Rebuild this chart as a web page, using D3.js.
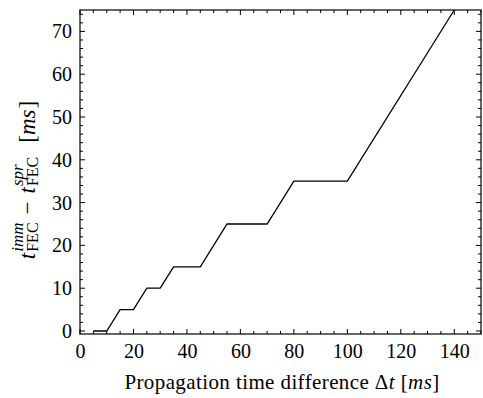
<!DOCTYPE html>
<html>
<head>
<meta charset="utf-8">
<script src="https://cdn.jsdelivr.net/npm/d3@7"></script>
<style>
  body { margin: 0; background: #fff; }
</style>
</head>
<body>
<svg id="chart"></svg>
<script>
// propagation time difference (ms) and FEC time difference (ms)
const delta_t = [5, 10, 15, 20, 25, 30, 35, 45, 55, 70, 80, 100, 140];
const fec_diff = [0, 0, 5, 5, 10, 10, 15, 15, 25, 25, 35, 35, 75];
const x_ticks = [0, 20, 40, 60, 80, 100, 120, 140];
const y_ticks = [0, 10, 20, 30, 40, 50, 60, 70];

const FONT = 'Liberation Serif';
const width = 483, height = 398;
const margin = {top: 10, right: 2, bottom: 64, left: 80};

const svg = d3.select('#chart')
    .attr('width', width)
    .attr('height', height);

const inner_width = width - margin.left - margin.right;
const inner_height = height - margin.top - margin.bottom;

const chart = svg.append('g')
    .attr('transform', `translate(${margin.left}, ${margin.top})`);

const xscale = d3.scaleLinear().domain([0, 150]).range([0, inner_width]);
const yscale = d3.scaleLinear().domain([-0.7, 75]).range([inner_height, 0]);

// minor ticks, inward on all four sides
const x_minor = d3.range(0, 151, 5);
const y_minor = d3.range(0, 76, 2);

function tickLen(isMajor) { return isMajor ? 5 : 3; }

const ticks = chart.append('g').attr('stroke', '#000').attr('stroke-width', 1);
x_minor.forEach(v => {
    const x = xscale(v);
    const l = tickLen(v % 20 === 0);
    ticks.append('line').attr('x1', x).attr('x2', x).attr('y1', inner_height).attr('y2', inner_height - l);
    ticks.append('line').attr('x1', x).attr('x2', x).attr('y1', 0).attr('y2', l);
});
y_minor.forEach(v => {
    const y = yscale(v);
    const l = tickLen(v % 10 === 0);
    ticks.append('line').attr('y1', y).attr('y2', y).attr('x1', 0).attr('x2', l);
    ticks.append('line').attr('y1', y).attr('y2', y).attr('x1', inner_width).attr('x2', inner_width - l);
});

const xaxis = d3.axisBottom(xscale).tickValues(x_ticks).tickSize(0).tickPadding(10);
const yaxis = d3.axisLeft(yscale).tickValues(y_ticks).tickSize(0).tickPadding(8);

chart.append('g')
    .attr('transform', `translate(0, ${inner_height})`)
    .call(xaxis)
    .attr('font-family', FONT)
    .attr('font-size', 20)
    .call(g => g.select('.domain').remove())
    .selectAll('text')
    .attr('font-family', FONT)
    .attr('fill', '#000');

chart.append('g')
    .call(yaxis)
    .attr('font-family', FONT)
    .attr('font-size', 20)
    .call(g => g.select('.domain').remove())
    .selectAll('text')
    .attr('font-family', FONT)
    .attr('fill', '#000');

// frame
chart.append('rect')
    .attr('width', inner_width)
    .attr('height', inner_height)
    .attr('fill', 'none')
    .attr('stroke', '#000')
    .attr('stroke-width', 1.2);

const pts = delta_t.map((d, i) => ({x: d, y: fec_diff[i]}));
const line = d3.line()
    .x(d => xscale(d.x))
    .y(d => yscale(d.y));

chart.append('path')
    .attr('d', line(pts))
    .attr('fill', 'none')
    .attr('stroke', '#000')
    .attr('stroke-width', 1.3);

// x label
const xl = svg.append('text')
    .attr('x', 282)
    .attr('y', 389)
    .attr('text-anchor', 'middle')
    .attr('font-family', FONT)
    .attr('font-size', 21)
    .attr('letter-spacing', 0.4);
xl.append('tspan').text('Propagation time difference Δ');
xl.append('tspan').attr('font-style', 'italic').text('t');
xl.append('tspan').text(' [');
xl.append('tspan').attr('font-style', 'italic').text('ms');
xl.append('tspan').text(']');

// y label, laid out piece by piece
const yl = svg.append('g');
let cx = 0;
function piece(txt, opts) {
    const t = yl.append('text')
        .attr('x', cx)
        .attr('y', opts.dy || 0)
        .attr('font-family', FONT)
        .attr('font-size', opts.size || 23)
        .attr('font-style', opts.italic ? 'italic' : 'normal')
        .text(txt);
    return t.node().getComputedTextLength();
}
let w = piece('t', {italic: true});
cx += w + 1;
const sup1 = piece('imm', {italic: true, size: 17, dy: -12});
const sub1 = piece('FEC', {size: 16, dy: 3});
cx += Math.max(sup1, sub1) + 8;
w = piece('−', {});
cx += w + 8;
w = piece('t', {italic: true});
cx += w + 1;
const sup2 = piece('spr', {italic: true, size: 17, dy: -12});
const sub2 = piece('FEC', {size: 16, dy: 3});
cx += Math.max(sup2, sub2) + 14;
w = piece('[', {});
cx += w;
w = piece('ms', {italic: true});
cx += w + 1;
w = piece(']', {});
cx += w;
yl.attr('transform', `translate(35, ${180 + cx / 2}) rotate(-90)`);
</script>
</body>
</html>
